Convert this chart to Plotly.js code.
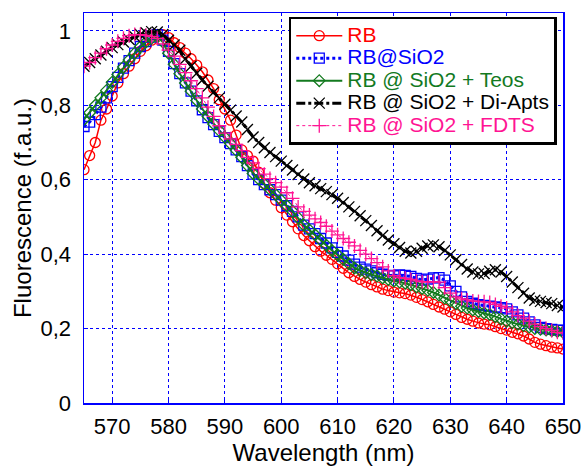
<!DOCTYPE html>
<html>
<head>
<meta charset="utf-8">
<script src="https://cdn.plot.ly/plotly-3.0.1.min.js"></script>
<style>html,body{margin:0;padding:0;background:#fff}#chart{width:582px;height:466px}</style>
</head>
<body>
<div id="chart"></div>
<script>
// Wavelengths 565..650 nm, 1 nm step
const wavelength = [565,566,567,568,569,570,571,572,573,574,575,576,577,578,579,580,581,582,583,584,585,586,587,588,589,590,591,592,593,594,595,596,597,598,599,600,601,602,603,604,605,606,607,608,609,610,611,612,613,614,615,616,617,618,619,620,621,622,623,624,625,626,627,628,629,630,631,632,633,634,635,636,637,638,639,640,641,642,643,644,645,646,647,648,649,650];

const rb = [0.627,0.665,0.700,0.760,0.790,0.825,0.860,0.885,0.905,0.925,0.945,0.960,0.975,0.985,0.990,0.982,0.968,0.955,0.940,0.925,0.908,0.890,0.868,0.845,0.815,0.790,0.760,0.720,0.680,0.665,0.650,0.620,0.590,0.565,0.545,0.525,0.505,0.487,0.468,0.450,0.436,0.420,0.408,0.397,0.386,0.374,0.362,0.350,0.340,0.332,0.325,0.318,0.312,0.306,0.302,0.298,0.296,0.294,0.290,0.284,0.278,0.272,0.265,0.258,0.252,0.245,0.238,0.230,0.225,0.220,0.215,0.212,0.210,0.205,0.200,0.196,0.190,0.186,0.180,0.172,0.163,0.158,0.154,0.150,0.148,0.145];

const rbSiO2 = [0.743,0.755,0.775,0.795,0.820,0.850,0.875,0.900,0.920,0.940,0.958,0.971,0.983,0.990,0.975,0.945,0.912,0.885,0.860,0.838,0.812,0.788,0.767,0.748,0.730,0.713,0.697,0.680,0.662,0.638,0.615,0.600,0.587,0.573,0.560,0.545,0.530,0.515,0.500,0.478,0.468,0.455,0.442,0.430,0.417,0.405,0.395,0.384,0.373,0.365,0.360,0.355,0.350,0.346,0.343,0.342,0.344,0.343,0.340,0.335,0.330,0.333,0.336,0.337,0.330,0.315,0.300,0.285,0.273,0.268,0.264,0.262,0.260,0.258,0.256,0.253,0.245,0.237,0.228,0.218,0.210,0.203,0.200,0.198,0.196,0.195];

const rbTeos = [0.762,0.780,0.800,0.820,0.840,0.862,0.883,0.903,0.922,0.940,0.957,0.970,0.980,0.985,0.970,0.940,0.910,0.885,0.860,0.838,0.813,0.790,0.770,0.750,0.732,0.714,0.697,0.679,0.660,0.638,0.617,0.602,0.588,0.574,0.560,0.545,0.530,0.515,0.498,0.478,0.465,0.452,0.438,0.424,0.410,0.398,0.386,0.374,0.363,0.356,0.350,0.345,0.341,0.336,0.332,0.328,0.325,0.322,0.318,0.312,0.308,0.303,0.297,0.290,0.282,0.275,0.267,0.260,0.255,0.250,0.246,0.242,0.238,0.232,0.226,0.220,0.216,0.212,0.208,0.204,0.200,0.198,0.196,0.194,0.192,0.190];

const rbDiApts = [0.905,0.915,0.925,0.935,0.945,0.955,0.963,0.970,0.977,0.985,0.990,0.995,0.998,0.997,0.990,0.975,0.962,0.948,0.925,0.905,0.886,0.868,0.851,0.835,0.820,0.803,0.787,0.771,0.755,0.735,0.715,0.700,0.686,0.673,0.662,0.650,0.638,0.626,0.614,0.602,0.592,0.584,0.576,0.568,0.560,0.550,0.539,0.527,0.515,0.503,0.490,0.477,0.463,0.450,0.438,0.428,0.418,0.408,0.403,0.408,0.416,0.422,0.425,0.420,0.410,0.398,0.385,0.372,0.360,0.352,0.347,0.348,0.354,0.358,0.352,0.340,0.325,0.310,0.295,0.282,0.276,0.273,0.270,0.267,0.262,0.258];

const rbFDTS = [0.905,0.915,0.928,0.940,0.952,0.962,0.972,0.980,0.987,0.990,0.990,0.988,0.985,0.980,0.965,0.948,0.932,0.910,0.888,0.866,0.845,0.820,0.795,0.770,0.745,0.725,0.710,0.695,0.678,0.660,0.645,0.630,0.615,0.603,0.592,0.580,0.565,0.550,0.527,0.515,0.505,0.495,0.485,0.475,0.462,0.452,0.442,0.432,0.422,0.410,0.400,0.388,0.377,0.366,0.355,0.342,0.337,0.335,0.332,0.328,0.326,0.325,0.326,0.325,0.310,0.295,0.285,0.280,0.277,0.274,0.273,0.272,0.270,0.265,0.260,0.255,0.245,0.235,0.228,0.220,0.212,0.205,0.200,0.195,0.190,0.188];

const seriesNames = ['RB','RB@SiO2','RB @ SiO2 + Teos','RB @ SiO2 + Di-Apts','RB @ SiO2 + FDTS'];
const xTickVals = [570,580,590,600,610,620,630,640,650];
const xTickText = ['570','580','590','600','610','620','630','640','650'];
const yTickVals = [0,0.2,0.4,0.6,0.8,1];
const yTickText = ['0','0,2','0,4','0,6','0,8','1'];

const colors = ['#ff0000','#0000ff','#137a1f','#000000','#ff1493'];
const dashes = ['solid','dot','solid','dashdot','dot'];
const widths = [1.5,3,2,3,1];
const symbols = ['circle-open','square-open','diamond-open','x-thin-open','cross-thin-open'];
const sizes = [10,10,9,11,10];
const ys = [rb, rbSiO2, rbTeos, rbDiApts, rbFDTS];

const traces = ys.map((y,i)=>({
  x: wavelength, y: y, type:'scatter', mode:'lines+markers',
  name: '<span style="color:'+colors[i]+';font-size:21px">'+seriesNames[i]+'</span>',
  line:{color:colors[i], width:widths[i], dash:dashes[i]},
  marker:{symbol:symbols[i], size:sizes[i], color:colors[i], line:{color:colors[i], width:1.3}}
}));

const axisCommon = {
  showline:true, mirror:true, linecolor:'#0000ff', linewidth:1.5,
  showgrid:true, gridcolor:'#0000ff', gridwidth:1, griddash:'dot',
  zeroline:false, ticks:'inside', ticklen:4, tickcolor:'#0000ff',
  tickfont:{size:22, color:'#000', family:'"Liberation Sans", Arial, sans-serif'}
};

const layout = {
  width:582, height:466,
  margin:{l:84, r:19, t:13, b:63},
  paper_bgcolor:'#fff', plot_bgcolor:'#fff',
  font:{family:'"Liberation Sans", Arial, sans-serif', color:'#000'},
  showlegend:true,
  legend:{x:0.987, xanchor:'right', y:0.99, yanchor:'top', bgcolor:'#fff', bordercolor:'#000', borderwidth:2.5,
    font:{size:15}, itemwidth:46, tracegroupgap:0},
  xaxis:Object.assign({}, axisCommon, {range:[565,650], tickvals:xTickVals, ticktext:xTickText, ticklabelstandoff:3,
    title:{text:'Wavelength (nm)', font:{size:24}, standoff:4}}),
  yaxis:Object.assign({}, axisCommon, {range:[0,1.048], tickvals:yTickVals, ticktext:yTickText, ticklabelstandoff:7,
    title:{text:'Fluorescence (f.a.u.)', font:{size:24}, standoff:2}})
};

Plotly.newPlot('chart', traces, layout, {displayModeBar:false, staticPlot:true});
</script>
</body>
</html>
